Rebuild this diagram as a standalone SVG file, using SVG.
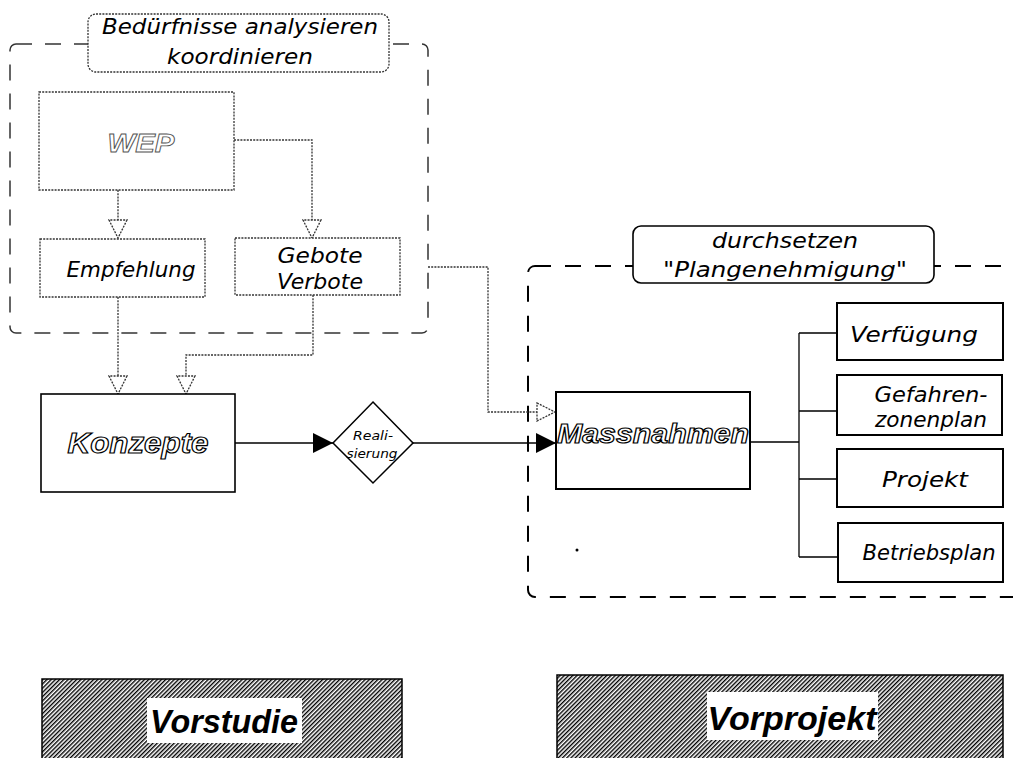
<svg xmlns="http://www.w3.org/2000/svg" width="1013" height="758" viewBox="0 0 1013 758">
  <defs>
    <style>
      text { font-family: "DejaVu Sans", "Liberation Sans", sans-serif; font-style: oblique; fill: #000; }
      .lbl { font-size: 21px; text-anchor: middle; }
      .outline { font-family: "Liberation Sans", Arial, sans-serif; font-style: italic; font-weight: bold; fill: #fff; stroke: #000; stroke-width: 1.2; }
      .phase { font-family: "Liberation Sans", Arial, sans-serif; font-style: italic; font-size: 34px; font-weight: bold; text-anchor: middle; }
      .dotbox { fill: #fff; stroke: #333; stroke-width: 1.3; stroke-dasharray: 2 1.2; }
      .solidbox { fill: #fff; stroke: #000; stroke-width: 2; }
      .dotline { fill: none; stroke: #333; stroke-width: 1.3; stroke-dasharray: 2 1.2; }
      .line { fill: none; stroke: #000; stroke-width: 1.3; }
    </style>
    <marker id="openHead" viewBox="0 0 20 20" refX="19" refY="10" markerWidth="20" markerHeight="20" markerUnits="userSpaceOnUse" orient="auto">
      <path d="M1,1 L19,10 L1,19 Z" fill="#fff" stroke="#333" stroke-width="1.3" stroke-dasharray="2 1.2"/>
    </marker>
    <marker id="solidHead" viewBox="0 0 20 20" refX="20" refY="10" markerWidth="20" markerHeight="20" markerUnits="userSpaceOnUse" orient="auto">
      <path d="M0,0 L20,10 L0,20 Z" fill="#000"/>
    </marker>
    <pattern id="hatch" width="3" height="3" patternUnits="userSpaceOnUse" patternTransform="rotate(45)">
      <rect width="3" height="3" fill="#fff"/>
      <line x1="0.7" y1="0" x2="0.7" y2="3" stroke="#000" stroke-width="1.4"/>
    </pattern>
  </defs>

  <!-- phase frames -->
  <g id="frame-vorstudie">
    <rect x="10" y="44" width="418" height="289" rx="6" fill="none" stroke="#333" stroke-width="1.5" stroke-dasharray="16 13"/>
  </g>
  <g id="frame-vorprojekt">
    <rect x="528" y="266" width="520" height="331" rx="7" fill="none" stroke="#000" stroke-width="2" stroke-dasharray="16 14"/>
  </g>

  <!-- connectors -->
  <g id="connectors">
    <path class="dotline" d="M118,190 V238" marker-end="url(#openHead)"/>
    <path class="dotline" d="M234,140 H312 V238" marker-end="url(#openHead)"/>
    <path class="dotline" d="M118,297 V394" marker-end="url(#openHead)"/>
    <path class="dotline" d="M313,295 V355 H186 V394" marker-end="url(#openHead)"/>
    <path class="dotline" d="M428,267 H488 V412 H555" marker-end="url(#openHead)"/>
    <path class="line" d="M235,443 H333" marker-end="url(#solidHead)"/>
    <path class="line" d="M413,443 H556" marker-end="url(#solidHead)"/>
    <path class="line" d="M750,442 H799 M799,333 V557 M799,333 H837 M799,411 H837 M799,479 H837 M799,557 H838"/>
  </g>

  <g id="title-beduerfnisse">
    <rect x="88" y="14" width="301" height="58" rx="8" class="dotbox"/>
    <text class="lbl" x="240" y="34" font-size="22" textLength="276" lengthAdjust="spacingAndGlyphs">Bedürfnisse analysieren</text>
    <text class="lbl" x="240" y="64" font-size="22" textLength="146" lengthAdjust="spacingAndGlyphs">koordinieren</text>
  </g>

  <g id="node-wep">
    <rect x="39" y="92" width="195" height="98" class="dotbox"/>
    <text x="141" y="152" font-size="26" text-anchor="middle" textLength="67" lengthAdjust="spacingAndGlyphs" class="outline" style="stroke:#555;stroke-width:0.9">WEP</text>
  </g>

  <g id="node-empfehlung">
    <rect x="40" y="239" width="165" height="58" class="dotbox"/>
    <text class="lbl" x="131" y="277" font-size="20" textLength="129" lengthAdjust="spacingAndGlyphs">Empfehlung</text>
  </g>

  <g id="node-gebote">
    <rect x="235" y="238" width="165" height="57" class="dotbox"/>
    <text class="lbl" x="320" y="263" font-size="20" textLength="85" lengthAdjust="spacingAndGlyphs">Gebote</text>
    <text class="lbl" x="320" y="289" font-size="20" textLength="86" lengthAdjust="spacingAndGlyphs">Verbote</text>
  </g>

  <g id="node-konzepte">
    <rect x="41" y="394" width="194" height="98" fill="#fff" stroke="#000" stroke-width="1.6"/>
    <text x="138" y="453" font-size="29" text-anchor="middle" textLength="141" lengthAdjust="spacingAndGlyphs" class="outline">Konzepte</text>
  </g>

  <g id="node-realisierung">
    <polygon points="373,402 413,443 373,483 333,443" fill="#fff" stroke="#000" stroke-width="1.5"/>
    <text x="373" y="440" font-size="13" text-anchor="middle" textLength="40" lengthAdjust="spacingAndGlyphs">Reali-</text>
    <text x="372" y="458" font-size="13" text-anchor="middle" textLength="51" lengthAdjust="spacingAndGlyphs">sierung</text>
  </g>

  <g id="title-durchsetzen">
    <rect x="633" y="226" width="301" height="57" rx="8" fill="#fff" stroke="#000" stroke-width="1.6"/>
    <text class="lbl" x="785" y="248" font-size="22" textLength="146" lengthAdjust="spacingAndGlyphs">durchsetzen</text>
    <text class="lbl" x="785" y="277" font-size="22" textLength="244" lengthAdjust="spacingAndGlyphs">"Plangenehmigung"</text>
  </g>

  <g id="node-massnahmen">
    <rect x="556" y="392" width="194" height="97" class="solidbox"/>
    <text x="557" y="443" font-size="27" textLength="192" lengthAdjust="spacingAndGlyphs" class="outline">Massnahmen</text>
  </g>

  <g id="node-verfuegung">
    <rect x="837" y="303" width="166" height="57" class="solidbox"/>
    <text class="lbl" x="914" y="342" font-size="22" textLength="128" lengthAdjust="spacingAndGlyphs">Verfügung</text>
  </g>

  <g id="node-gefahrenzonenplan">
    <rect x="837" y="375" width="165" height="60" class="solidbox"/>
    <text class="lbl" x="931" y="402" font-size="22" textLength="113" lengthAdjust="spacingAndGlyphs">Gefahren-</text>
    <text class="lbl" x="931" y="427" font-size="22" textLength="112" lengthAdjust="spacingAndGlyphs">zonenplan</text>
  </g>

  <g id="node-projekt">
    <rect x="837" y="449" width="166" height="58" class="solidbox"/>
    <text class="lbl" x="925" y="487" font-size="22" textLength="86" lengthAdjust="spacingAndGlyphs">Projekt</text>
  </g>

  <g id="node-betriebsplan">
    <rect x="838" y="523" width="165" height="59" class="solidbox"/>
    <text class="lbl" x="929" y="560" font-size="20" textLength="133" lengthAdjust="spacingAndGlyphs">Betriebsplan</text>
  </g>

  <circle cx="577" cy="550" r="1.5" fill="#000"/>

  <g id="phase-vorstudie">
    <rect x="42" y="679" width="360" height="100" fill="url(#hatch)" stroke="#000" stroke-width="1.5"/>
    <rect x="147" y="698" width="155" height="45" fill="#fff"/>
    <text class="phase" x="224" y="733" textLength="148" lengthAdjust="spacingAndGlyphs">Vorstudie</text>
  </g>

  <g id="phase-vorprojekt">
    <rect x="557" y="675" width="446" height="100" fill="url(#hatch)" stroke="#000" stroke-width="1.5"/>
    <rect x="707" y="692" width="171" height="48" fill="#fff"/>
    <text class="phase" x="792" y="730" textLength="169" lengthAdjust="spacingAndGlyphs">Vorprojekt</text>
  </g>
</svg>
